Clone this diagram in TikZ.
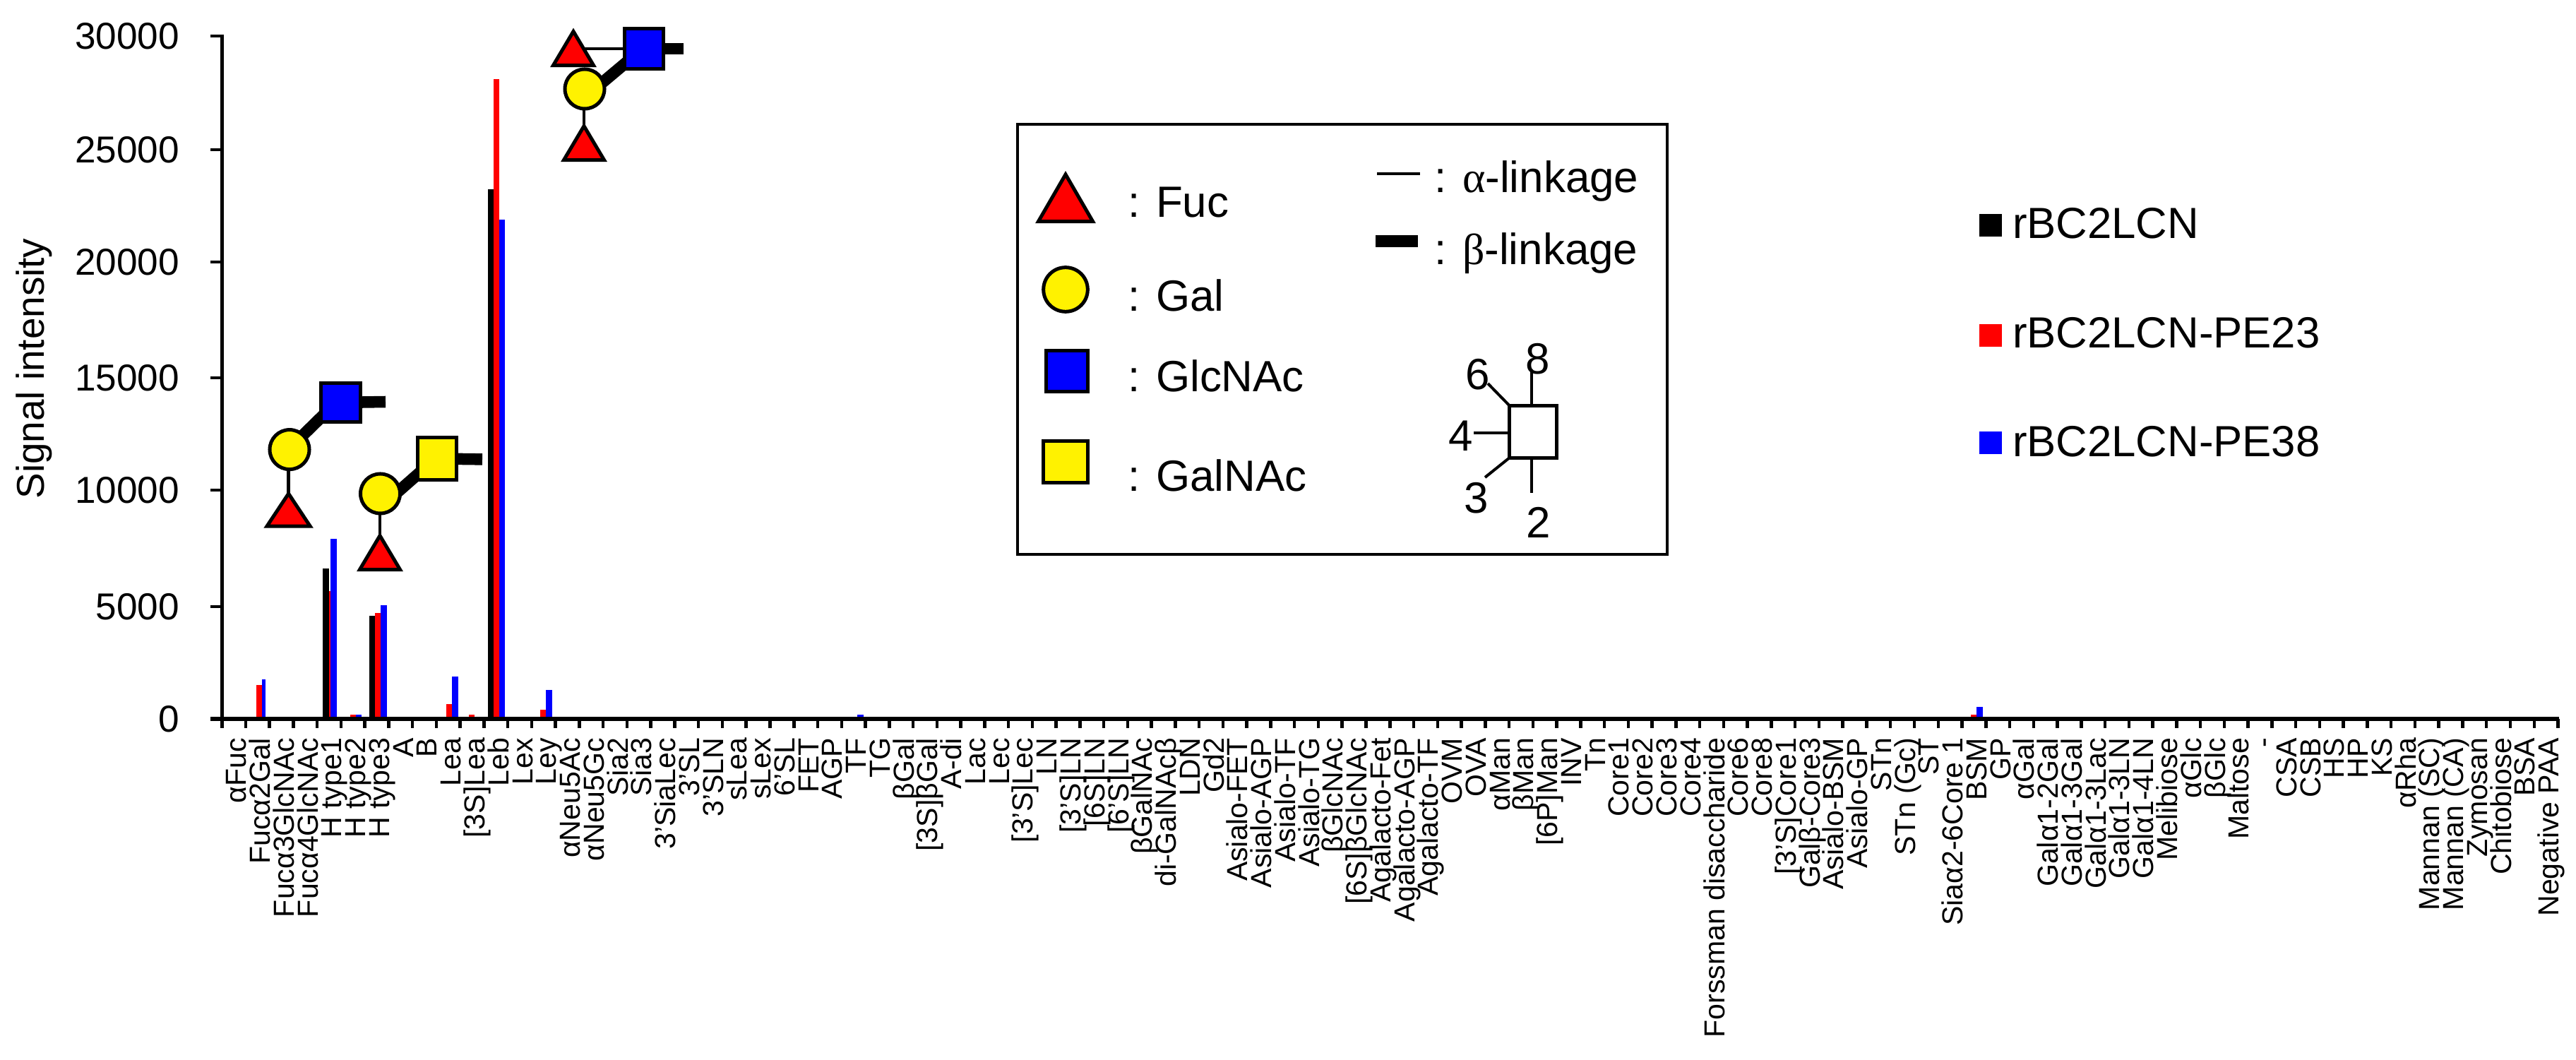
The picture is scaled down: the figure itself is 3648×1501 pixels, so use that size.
\documentclass[tikz,border=0pt]{standalone}
\usepackage{fontspec}
\setmainfont{Liberation Sans}
\newfontfamily\grk{Liberation Serif}
\usetikzlibrary{shapes.geometric,backgrounds}

\newcommand{\sugarfont}[1]{\fontsize{#1}{#1}\selectfont}

\tikzset{
  plain/.style={inner sep=0pt,outer sep=0pt},
  glabel/.style={plain,rotate=90,anchor=base east,font=\sugarfont{11.67pt}},
  ylabel/.style={plain,anchor=east,font=\sugarfont{15.1pt}},
  leglabel/.style={plain,anchor=base west,font=\sugarfont{17.6pt}},
  serieslabel/.style={plain,anchor=base west,font=\sugarfont{17.55pt}},
  digit/.style={plain,font=\sugarfont{17.6pt}},
  axisline/.style={line width=0.05cm},
  tickline/.style={line width=0.045cm},
  sugar/.style={plain,draw=black,line width=0.05cm},
  fuc/.style={sugar,fill=red,isosceles triangle,isosceles triangle stretches,
    shape border rotate=90,anchor=apex,minimum width=0.57cm,minimum height=0.48cm},
  gal/.style={sugar,fill=yellow,circle,minimum size=0.56cm},
  glcnac/.style={sugar,fill=blue,rectangle,minimum width=0.55cm,minimum height=0.57cm},
  galnac/.style={sugar,fill=yellow,rectangle,minimum width=0.55cm,minimum height=0.59cm},
  alphalink/.style={line width=0.045cm},
  betalink/.style={line width=0.165cm},
  betadiag/.style={betalink,shorten <=-0.06cm,shorten >=-0.06cm}
}

\begin{document}
\begin{tikzpicture}[x=0.01cm,y=-0.01cm]
  \newcommand{\w}{33.76}
  \useasboundingbox (0,0) rectangle (3648,1501);

  \foreach \c/\l/\r/\t in {
    red/363/371/970, blue/371/376/962,
    black/457/466/805, red/466/468/837, blue/468/477/763,
    red/496/504/1012, blue/504/512/1012,
    black/523/531/872, red/531/539/868, blue/539/548/857,
    red/632/640/997, blue/640/649/958,
    red/664/672/1012,
    black/691/699/268, red/699/707/112, blue/707/715/311,
    red/765/773/1005, blue/773/782/977,
    blue/1214/1223/1012,
    red/2791/2799/1012, blue/2799/2808/1001} {
    \fill[\c] (\l,1018) rectangle (\r,\t);
  }

  \draw[axisline] (314.6,49) -- (314.6,1031);
  \draw[axisline] (298,1018) -- (3624,1018);
  \foreach \v/\y in {30000/51, 25000/212, 20000/371, 15000/535, 10000/694, 5000/859, 0/1018} {
    \draw[tickline] (298,\y) -- (314.6,\y);
    \node[ylabel] (y-\v) at (254,\y) {\v};
  }
  \foreach \i in {1,...,98} {
    \draw[tickline] ({314+\w*\i},1018) -- ({314+\w*\i},1031);
  }
  \node[plain,rotate=90,anchor=base,font=\sugarfont{15.6pt}] (ytitle) at (62,522) {Signal intensity};

  \foreach \g [count=\i] in {
    αFuc, Fucα2Gal, Fucα3GlcNAc, Fucα4GlcNAc, H type1, H type2, H type3, A, B, Lea,
    [3S]Lea, Leb, Lex, Ley, αNeu5Ac, αNeu5Gc, Sia2, Sia3, 3'SiaLec, 3'SL,
    3'SLN, sLea, sLex, 6'SL, FET, AGP, TF, TG, βGal, [3S]βGal,
    A-di, Lac, Lec, [3'S]Lec, LN, [3'S]LN, [6S]LN, [6'S]LN, βGalNAc, di-GalNAcβ,
    LDN, Gd2, Asialo-FET, Asialo-AGP, Asialo-TF, Asialo-TG, βGlcNAc, [6S]βGlcNAc, Agalacto-Fet, Agalacto-AGP,
    Agalacto-TF, OVM, OVA, αMan, βMan, [6P]Man, INV, Tn, Core1, Core2,
    Core3, Core4, Forssman disaccharide, Core6, Core8, [3'S]Core1, Galβ-Core3, Asialo-BSM, Asialo-GP, STn,
    STn (Gc), ST, Siaα2-6Core 1, BSM, GP, αGal, Galα1-2Gal, Galα1-3Gal, Galα1-3Lac, Galα1-3LN,
    Galα1-4LN, Melibiose, αGlc, βGlc, Maltose, -, CSA, CSB, HS, HP,
    KS, αRha, Mannan (SC), Mannan (CA), Zymosan, Chitobiose, BSA, Negative PAA} {
    \node[glabel] (g-\i) at ({314+\w*(\i-0.5)+18},1045) {\g};
  }

  % glycans on the chart
  \node[gal] (gal-a) at (410,636.6) {};
  \node[glcnac,minimum height=0.55cm] (glcnac-a) at (482.5,570) {};
  \node[fuc,minimum width=0.61cm,minimum height=0.46cm] (fuc-a) at (408.6,699) {};
  \coordinate (end-a) at (546,569);

  \node[gal] (gal-b) at (538.5,699) {};
  \node[galnac] (galnac-b) at (619,649.5) {};
  \node[fuc] (fuc-b) at (538,758.5) {};
  \coordinate (end-b) at (683,650.4);

  \node[gal] (gal-c) at (828,126) {};
  \node[glcnac] (glcnac-c) at (912,69) {};
  \node[fuc] (fuc-c) at (812,44.5) {};
  \node[fuc] (fuc-d) at (827,178.5) {};
  \coordinate (end-c) at (968,69);

  \begin{pgfonlayer}{background}
    \draw[betadiag] (gal-a.47) -- (glcnac-a.217);
    \draw[betadiag] (gal-b.10) -- (galnac-b.219);
    \draw[betadiag] (gal-c.21) -- (glcnac-c.218);
    \draw[betalink] (glcnac-a.center) -- (end-a);
    \draw[betalink] (galnac-b.center) -- (end-b);
    \draw[betalink] (glcnac-c.center) -- (end-c);
    \draw[alphalink] (fuc-a.apex |- gal-a.center) -- (fuc-a.apex);
    \draw[alphalink] (fuc-b.apex |- gal-b.center) -- (fuc-b.apex);
    \draw[alphalink] (fuc-d.apex |- gal-c.center) -- (fuc-d.apex);
    \draw[alphalink] (fuc-c.apex |- glcnac-c.west) -- (glcnac-c.center);
  \end{pgfonlayer}

  % key for the sugars
  \node[plain,draw,line width=0.04cm,minimum width=9.2cm,minimum height=6.09cm] (legend) at (1901,480.5) {};
  \node[fuc,minimum width=0.77cm,minimum height=0.665cm] (key-fuc) at (1509,247) {};
  \node[gal,minimum size=0.626cm] (key-gal) at (1509,410) {};
  \node[glcnac,minimum width=0.59cm,minimum height=0.58cm] (key-glcnac) at (1511,525.5) {};
  \node[galnac,minimum width=0.63cm,minimum height=0.59cm] (key-galnac) at (1509,654) {};
  \foreach \s/\y in {Fuc/308, Gal/441, GlcNAc/555, GalNAc/696} {
    \node[leglabel] (txt-\s) at (1597,\y) {: \s};
  }

  \coordinate (al-1) at (1950,246);
  \coordinate (al-2) at (2011,246);
  \coordinate (be-1) at (1948,341.5);
  \coordinate (be-2) at (2008,341.5);
  \draw[line width=0.04cm] (al-1) -- (al-2);
  \draw[betalink] (be-1) -- (be-2);
  \node[leglabel] (txt-al) at (2031,273) {: {\grk α}-linkage};
  \node[leglabel] (txt-be) at (2031,375) {: {\grk β}-linkage};

  \node[plain,draw,line width=0.045cm,minimum width=0.67cm,minimum height=0.74cm] (pos) at (2171,611.3) {};
  \foreach \a/\x/\y in {8/2169.3/523, 2/2169.3/698, 4/2087/613, 6/2107/543, 3/2103/676} {
    \coordinate (end-\a) at (\x,\y);
  }
  \draw[line width=0.04cm] (pos.north -| end-8) -- (end-8);
  \draw[line width=0.04cm] (pos.south -| end-2) -- (end-2);
  \draw[line width=0.04cm] (pos.west |- end-4) -- (end-4);
  \draw[line width=0.04cm] (pos.north west) -- (end-6);
  \draw[line width=0.04cm] (pos.south west) -- (end-3);
  \foreach \a/\x/\y in {8/2178/508, 6/2093/530, 4/2069/617, 3/2091/705, 2/2179/740} {
    \node[digit] (n-\a) at (\x,\y) {\a};
  }

  % series key
  \foreach \c/\y/\b/\s in {black/303/337.7/rBC2LCN, red/459/492.7/rBC2LCN-PE23, blue/611/647/rBC2LCN-PE38} {
    \fill[\c] (2803,\y) rectangle (2835,\y+32);
    \node[serieslabel] (s-\c) at (2850,\b) {\s};
  }
\end{tikzpicture}
\end{document}
